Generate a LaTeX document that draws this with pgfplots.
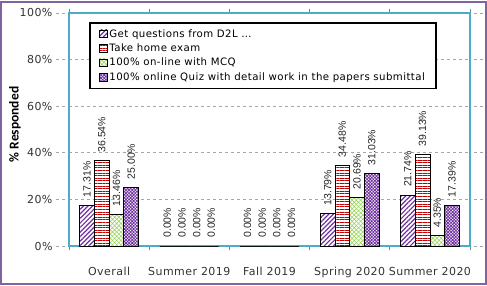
\documentclass[border=0pt]{standalone}
\usepackage{fontspec}
\setmainfont{DejaVu Sans}[LetterSpace=4]
\newfontfamily\labfont{Liberation Sans}
\newfontfamily\ylabfont{Carlito}
\usepackage{pgfplots}
\pgfplotsset{compat=1.18}
\usetikzlibrary{calc,patterns.meta}
\definecolor{cpurple}{HTML}{7030A0}
\definecolor{cred}{HTML}{C00000}
\definecolor{cgreen}{HTML}{92D050}
\definecolor{cteal}{HTML}{4BACC6}
\definecolor{cframe}{HTML}{8064A2}
\definecolor{cgrid}{HTML}{A6A6A6}
\begin{document}
\begin{tikzpicture}
\begin{axis}[
  scale only axis, width=401pt, height=233pt,
  xmin=-0.5, xmax=4.5, ymin=0, ymax=100,
  ybar=0pt, bar width=14.7pt,
  axis line style={draw=cteal, line width=2pt},
  /pgf/number format/assume math mode=true,
  xtick={0,1,2,3,4},
  xticklabels={Overall, Summer 2019, Fall 2019, Spring 2020, Summer 2020},
  major x tick style={draw=none},
  minor xtick={-0.5,0.5,1.5,2.5,3.5,4.5},
  minor x tick style={draw=gray, line width=0.8pt},
  minor tick length=4pt,
  tick align=outside,
  ytick={0,20,40,60,80,100},
  yticklabels={0\%,20\%,40\%,60\%,80\%,100\%},
  major y tick style={draw=cgrid, dashed, line width=0.8pt},
  major tick length=13pt,
  ymajorgrids,
  grid style={draw=cgrid, dashed, line width=0.8pt},
  tick label style={font=\fontsize{11}{13}\selectfont, color=black!80},
  xticklabel style={yshift=-5pt},
  ylabel={\% Responded},
  every axis y label/.style={at={(rel axis cs:0,0.5)}, xshift=-54pt, yshift=5pt, rotate=90, anchor=center, font=\ylabfont\bfseries\fontsize{13.5}{15}\selectfont},
  nodes near coords={\pgfmathprintnumber[fixed,fixed zerofill,precision=2]{\pgfplotspointmeta}\%},
  every node near coord/.append style={rotate=90, anchor=west, inner sep=0pt, inner xsep=8pt, font=\labfont\fontsize{10.5}{12}\selectfont, color=black!85},
  legend cell align=left,
  legend style={at={(rel axis cs:0.05,0.961)}, anchor=north west, draw=black, line width=1.5pt, font=\fontsize{10.2}{12}\selectfont, row sep=1.2pt, inner xsep=9pt, inner ysep=4.5pt},
  legend image code/.code={\draw[#1, line width=0.6pt] (0pt,-3.8pt) rectangle (8pt,4pt);},
  clip=false,
]
\addplot[draw=black, line width=0.8pt, fill=white, postaction={pattern={Lines[angle=45,distance=3.2pt,line width=1.2pt]}, pattern color=cpurple}]
  coordinates {(0,17.31) (1,0) (2,0) (3,13.79) (4,21.74)};
\addlegendentry{Get questions from D2L \ldots}
\addplot[draw=black, line width=0.8pt, fill=white, postaction={pattern={Lines[angle=0,distance=2.6pt,line width=1pt]}, pattern color=cred}]
  coordinates {(0,36.54) (1,0) (2,0) (3,34.48) (4,39.13)};
\addlegendentry{Take home exam}
\addplot[draw=black, line width=0.8pt, fill=white, postaction={pattern={Hatch[angle=45,distance=3pt,line width=0.5pt]}, pattern color=cgreen}]
  coordinates {(0,13.46) (1,0) (2,0) (3,20.69) (4,4.35)};
\addlegendentry{100\% on-line with MCQ}
\addplot[draw=black, line width=0.8pt, fill=white, postaction={pattern={Hatch[angle=45,distance=2.2pt,line width=0.8pt]}, pattern color=cpurple}]
  coordinates {(0,25.00) (1,0) (2,0) (3,31.03) (4,17.39)};
\addlegendentry{100\% online Quiz with detail work in the papers submittal}
\end{axis}
\draw[cframe, line width=2.5pt] ($(current axis.south west)+(-67.75pt,-37.75pt)$) rectangle ($(current axis.north east)+(15.75pt,10.75pt)$);
\end{tikzpicture}
\end{document}
